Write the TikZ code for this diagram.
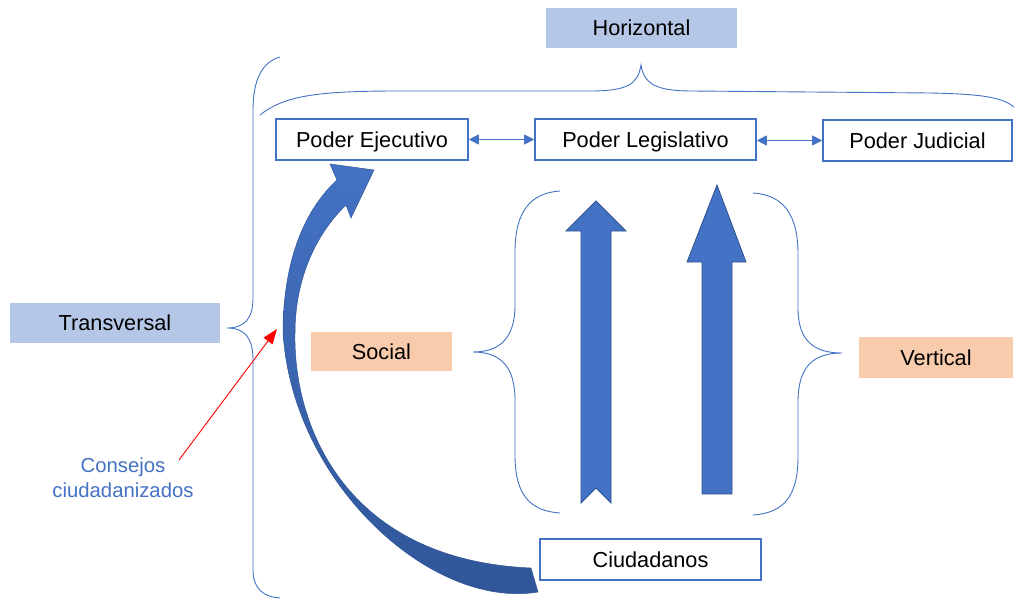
\documentclass[tikz,border=0pt]{standalone}
\usepackage{fontspec}
\setmainfont{Liberation Sans}
\usetikzlibrary{arrows.meta}
\definecolor{acc}{HTML}{4472C4}
\definecolor{accd}{HTML}{2F528F}
\definecolor{accdark}{HTML}{2F5597}
\definecolor{lblue}{HTML}{B4C7E7}
\definecolor{peach}{HTML}{F8CBAD}
\begin{document}
\begin{tikzpicture}[x=1pt,y=-1pt,
  box/.style={draw=acc, line width=1.6pt, fill=white, inner sep=0pt, text height=15.5pt, text depth=0pt, font=\fontsize{21.7}{25}\selectfont},
  tag/.style={fill=#1, inner sep=0pt, text height=15.5pt, text depth=0pt, font=\fontsize{21.7}{25}\selectfont},
  brace/.style={draw=acc, line width=0.9pt},
  link/.style={draw=acc, line width=1pt, {Triangle[length=10pt,width=10pt]}-{Triangle[length=10pt,width=10pt]}},
  blockarrow/.style={fill=acc, draw=accd, line width=0.8pt}]
\useasboundingbox (0,0) rectangle (1014,599);
\fill[white] (0,0) rectangle (1014,599);

% braces
\draw[brace] (260,115) .. controls (285,95) and (320,91) .. (400,91) -- (590,91)
  .. controls (628,91) and (638,84) .. (641,65)
  .. controls (644,84) and (656,91) .. (692,91) -- (930,93)
  .. controls (985,94) and (1003,98) .. (1014,107);
\draw[brace] (280,57) .. controls (262,62) and (253,80) .. (253,110) -- (253,298)
  .. controls (253,318) and (245,328) .. (227,328)
  .. controls (245,328) and (253,338) .. (253,360) -- (253,570)
  .. controls (253,590) and (265,597) .. (280,598);
\draw[brace] (560,191) .. controls (530,193) and (515,212) .. (515,252) -- (515,305)
  .. controls (515,338) and (500,352) .. (473,352)
  .. controls (500,352) and (515,366) .. (515,400) -- (515,455)
  .. controls (515,495) and (530,511) .. (560,513);
\draw[brace] (753,193) .. controls (783,195) and (798,214) .. (798,254) -- (798,308)
  .. controls (798,340) and (813,353) .. (842,353)
  .. controls (813,353) and (798,367) .. (798,402) -- (798,457)
  .. controls (798,497) and (783,513) .. (753,515);

% vertical block arrows
\draw[blockarrow] (581,503) -- (581,231) -- (566,231) -- (596,201) -- (626,231) -- (611,231) -- (611,503) -- (596,488) -- cycle;
\draw[blockarrow] (702,494) -- (702,262) -- (687,262) -- (717,185) -- (746,262) -- (732,262) -- (732,494) -- cycle;

% curved arrow
\shade[top color=acc, bottom color=accdark, draw=accdark, line width=0.5pt]
  (538,592) .. controls (430,610) and (290,480) .. (283,330)
  .. controls (284,250) and (310,205) .. (337,180)
  -- (330,164) -- (374,170) -- (351,218) -- (346,205)
  .. controls (315,235) and (295,280) .. (295,333)
  .. controls (293,425) and (345,560) .. (531,568) -- cycle;

% boxes
\node[tag=lblue, minimum width=191pt, minimum height=40pt] (hor) at (641.5,28) {Horizontal};
\node[tag=lblue, minimum width=210pt, minimum height=40pt] (tra) at (115,323) {Transversal};
\node[tag=peach, minimum width=141pt, minimum height=39pt] (soc) at (381.5,351.5) {Social};
\node[tag=peach, minimum width=154pt, minimum height=41pt] (ver) at (936,357.5) {Vertical};
\node[box, minimum width=192pt, minimum height=41pt] (eje) at (372,139.5) {Poder Ejecutivo};
\node[box, minimum width=221pt, minimum height=41pt] (leg) at (645.5,139.5) {Poder Legislativo};
\node[box, minimum width=189pt, minimum height=41pt] (jud) at (917.5,140.5) {Poder Judicial};
\node[box, minimum width=221pt, minimum height=41pt] (ciu) at (650.5,559.5) {Ciudadanos};

\draw[link] (eje.east) -- (leg.west);
\draw[link] (leg.east |- jud.west) -- (jud.west);

% consejos
\node[text=acc, align=center, inner sep=0pt, font=\fontsize{20.3}{25}\selectfont] (con) at (123,478) {Consejos\\ciudadanizados};
\coordinate (rs) at (179,460);
\coordinate (rt) at (277,329);
\draw[red, line width=0.9pt, -{Triangle[length=15pt,width=11pt]}] (rs) -- (rt);
\end{tikzpicture}
\end{document}
